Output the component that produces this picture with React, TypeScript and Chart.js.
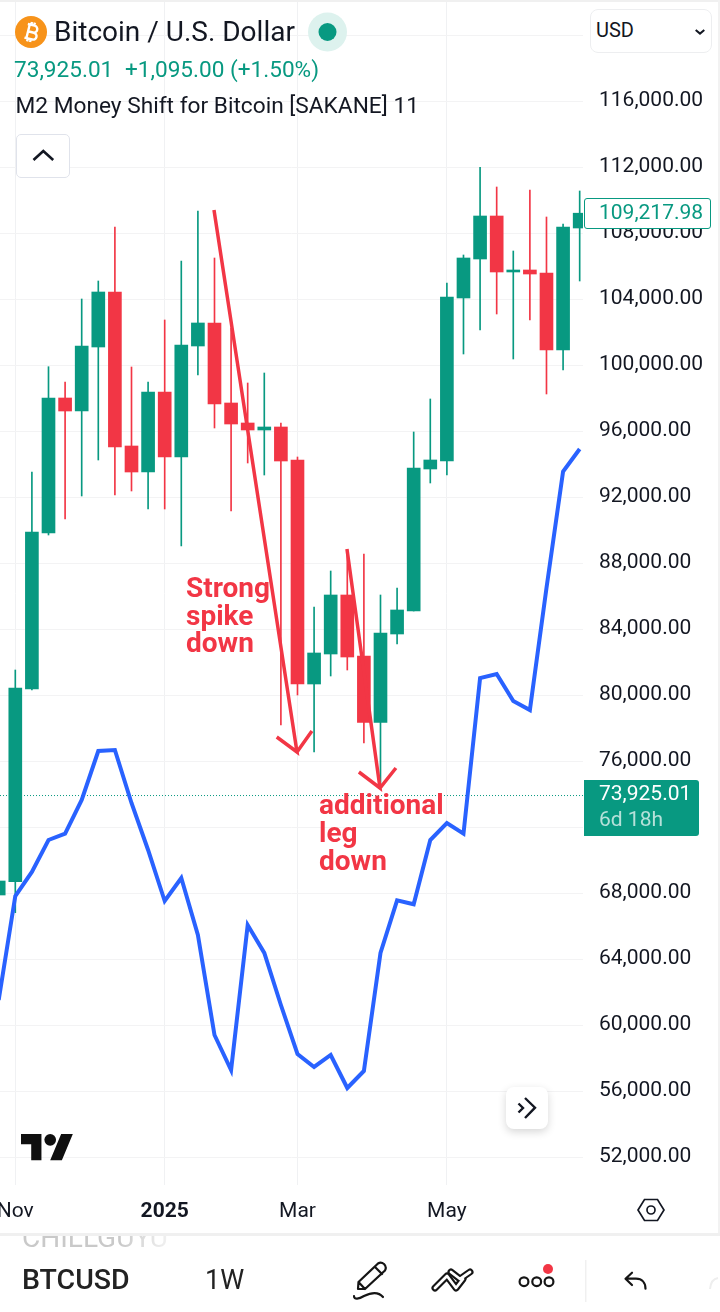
import React, { useEffect, useRef } from "react";
import { Chart, registerables } from "chart.js";

Chart.register(...registerables);

const opens = [67897, 68703, 80382, 89836, 98018, 97230, 101109, 104442, 95109, 93533, 98382, 94442, 101170, 102564, 97715, 96503, 96079, 96261, 94261, 80685, 82503, 86079, 82382, 78351, 83715, 85109, 93715, 94200, 104079, 106442, 109048, 105655, 105776, 105594, 100927, 108321];
const closes = [68745, 80442, 89897, 98018, 97230, 101170, 104442, 95049, 93533, 98382, 94442, 101230, 102564, 97655, 96442, 96079, 96261, 94200, 80685, 82564, 86079, 82321, 78351, 83776, 85170, 93776, 94261, 104139, 106503, 109048, 105655, 105776, 105533, 100927, 108382, 109217.98];
const highs = [68900, 81533, 93533, 99915, 98988, 104018, 105109, 108382, 99897, 98988, 102746, 106321, 109351, 106503, 102261, 98927, 99533, 96503, 94442, 85351, 87533, 88806, 88564, 86079, 86503, 95958, 97958, 104988, 106685, 112000, 110806, 106927, 110624, 108988, 108564, 110564];
const lows = [67700, 66824, 80321, 89715, 90685, 92079, 94261, 92139, 92382, 91291, 91291, 89048, 99412, 96200, 91170, 94079, 93351, 78200, 80018, 76564, 81170, 81533, 77109, 74442, 83109, 85109, 92867, 93351, 100685, 102139, 103109, 100382, 102746, 98261, 99715, 105109];
const m2Shift = [61533, 67836, 69291, 71230, 71618, 73655, 76624, 76685, 73473, 70624, 67533, 68927, 65473, 59412, 57291, 66079, 64388, 61230, 58260, 57473, 58200, 56200, 57230, 64388, 67576, 67333, 71230, 72260, 71618, 81048, 81290, 79648, 79102, 86503, 93563, 94927];

const priceTicks = [52000, 56000, 60000, 64000, 68000, 72000, 76000, 80000, 84000, 88000, 92000, 96000, 100000, 104000, 108000, 112000, 116000, 120000];
const timeTickIndex = [0, 9, 17, 26];
const timeTickLabels = ["Nov", "2025", "Mar", "May"];

const lastPrice = 73925.01;
const arrowOneX = [11.97, 16.97, 15.75, 16.97, 17.87];
const arrowOneY = [109412, 76564, 77473, 76564, 77836];
const arrowTwoX = [19.98, 21.97, 20.7, 21.97, 22.93];
const arrowTwoY = [88867, 74382, 75352, 74382, 75594];

const GREEN = "#089981";
const RED = "#F23645";
const BLUE = "#2962FF";
const INK = "#131722";
const FONT = "Roboto, sans-serif";

const Txt = ({ x, cy, size, color = INK, weight = 400, children, lh = 30, extra = {} }: any) => (
  <div
    style={{
      position: "absolute",
      left: x,
      top: cy - lh / 2,
      height: lh,
      lineHeight: lh + "px",
      fontFamily: FONT,
      fontSize: size,
      fontWeight: weight,
      color,
      whiteSpace: "nowrap",
      ...extra,
    }}
  >
    {children}
  </div>
);

const Box = ({ x, y, w, h, style = {}, children = null }: any) => (
  <div style={{ position: "absolute", left: x, top: y, width: w, height: h, boxSizing: "border-box", ...style }}>{children}</div>
);

export default function App() {
  const ref = useRef<HTMLCanvasElement>(null);

  useEffect(() => {
    const idx = opens.map((_, i) => i - 1);
    const colors = opens.map((o, i) => (closes[i] >= o ? GREEN : RED));
    const fixMargins = (s: any) => {
      s.paddingLeft = 0;
      s.paddingRight = 0;
      s.paddingTop = 0;
      s.paddingBottom = 0;
    };
    const xMin = -0.9217;
    const xMax = 34.2;
    const chart = new Chart(ref.current as HTMLCanvasElement, {
      type: "bar",
      data: {
        datasets: [
          {
            type: "line",
            data: [
              { x: xMin, y: lastPrice },
              { x: xMax, y: lastPrice },
            ],
            borderColor: GREEN,
            borderWidth: 1,
            borderDash: [1, 2],
            pointRadius: 0,
            order: 6,
          },
          {
            type: "bar",
            data: idx.map((x, i) => ({ x, y: [lows[i], highs[i]] })),
            backgroundColor: colors,
            barThickness: 1,
            grouped: false,
            order: 5,
          },
          {
            type: "bar",
            data: idx.map((x, i) => ({ x, y: [opens[i], closes[i]] })),
            backgroundColor: colors,
            barThickness: 13,
            grouped: false,
            order: 4,
          },
          {
            type: "line",
            data: idx.map((x, i) => ({ x, y: m2Shift[i] })),
            borderColor: BLUE,
            borderWidth: 4,
            pointRadius: 0,
            tension: 0,
            borderJoinStyle: "miter",
            order: 3,
          },
          {
            type: "line",
            data: arrowOneX.map((x, i) => ({ x, y: arrowOneY[i] })),
            borderColor: RED,
            borderWidth: 3.5,
            pointRadius: 0,
            tension: 0,
            order: 2,
          },
          {
            type: "line",
            data: arrowTwoX.map((x, i) => ({ x, y: arrowTwoY[i] })),
            borderColor: RED,
            borderWidth: 3.5,
            pointRadius: 0,
            tension: 0,
            order: 1,
          },
        ] as any,
      },
      options: {
        responsive: false,
        animation: false,
        devicePixelRatio: 1,
        events: [],
        layout: { padding: { left: 0, right: 0, top: 2, bottom: 77 } },
        plugins: { legend: { display: false }, tooltip: { enabled: false } },
        scales: {
          x: {
            type: "linear",
            min: xMin,
            max: xMax,
            offset: false,
            border: { display: false },
            grid: { offset: false, color: "#F0F1F3", lineWidth: 1, drawTicks: false },
            afterBuildTicks: (s: any) => {
              s.ticks = timeTickIndex.map((value) => ({ value }));
            },
            afterFit: (s: any) => {
              fixMargins(s);
              s.height = 50;
            },
            ticks: {
              autoSkip: false,
              maxRotation: 0,
              padding: 14,
              color: INK,
              callback: (v: any) => timeTickLabels[timeTickIndex.indexOf(v)] ?? "",
              font: (ctx: any) => ({
                family: "Roboto",
                size: 21,
                weight: timeTickLabels[ctx.index] === "2025" ? "bold" : "normal",
              }),
            },
          },
          y: {
            type: "linear",
            position: "right",
            min: 50321,
            max: 122018,
            border: { display: false },
            grid: { color: "#F3F3F4", lineWidth: 1, drawTicks: false },
            afterBuildTicks: (s: any) => {
              s.ticks = priceTicks.map((value) => ({ value }));
            },
            afterFit: (s: any) => {
              fixMargins(s);
              s.width = 137;
            },
            ticks: {
              autoSkip: false,
              padding: 16,
              labelOffset: -1,
              color: INK,
              font: { family: "Roboto", size: 21 },
              callback: (v: any) =>
                v === 120000 ? "" : Number(v).toLocaleString("en-US", { minimumFractionDigits: 2, maximumFractionDigits: 2 }),
            },
          },
        },
      } as any,
    });
    return () => chart.destroy();
  }, []);

  return (
    <div style={{ position: "absolute", left: 0, top: 0, width: 720, height: 1312, background: "#fff", overflow: "hidden" }}>
      <canvas ref={ref} width={720} height={1312} style={{ position: "absolute", left: 0, top: 0, display: "block", width: 720, height: 1312 }} />

      {/* frame */}
      <Box x={0} y={0} w={720} h={2} style={{ background: "#F0F0F0" }} />
      <Box x={718} y={0} w={2} h={1236} style={{ background: "#F2F2F2" }} />
      <Box x={0} y={1233} w={720} h={3} style={{ background: "#F0F0F0" }} />

      {/* header */}
      <Txt x={54} cy={31.5} size={28}>Bitcoin / U.S. Dollar</Txt>
      <Txt x={14} cy={70} size={22.6} color={GREEN}>73,925.01</Txt>
      <Txt x={125} cy={70} size={22.6} color={GREEN}>+1,095.00 (+1.50%)</Txt>
      <Txt x={15.5} cy={106} size={22.7}>M2 Money Shift for Bitcoin [SAKANE] 11</Txt>
      <Box x={16} y={134} w={54} h={44} style={{ border: "1px solid #E0E3EB", borderRadius: 5, background: "#fff" }} />

      {/* currency select */}
      <Box x={590} y={9} w={122} h={44} style={{ border: "1px solid #EDEEF0", borderRadius: 8, background: "#fff" }} />
      <Txt x={596} cy={30} size={20}>USD</Txt>

      {/* price tags */}
      <Box x={584} y={198} w={127} h={31} style={{ border: `1px solid ${GREEN}`, borderRadius: 3, background: "#fff" }} />
      <Txt x={599} cy={212} size={21} color={GREEN}>109,217.98</Txt>
      <Box x={584} y={780} w={115} h={56} style={{ background: GREEN, borderRadius: "0 3px 3px 0" }} />
      <Txt x={599} cy={793} size={21} color="#fff">73,925.01</Txt>
      <Txt x={599} cy={819} size={21} color="rgba(255,255,255,0.7)">6d 18h</Txt>

      {/* annotations */}
      <Txt x={186} cy={588} size={28} weight={700} color={RED}>Strong</Txt>
      <Txt x={186} cy={616} size={28} weight={700} color={RED}>spike</Txt>
      <Txt x={186} cy={643} size={28} weight={700} color={RED}>down</Txt>
      <Txt x={319} cy={805} size={28} weight={700} color={RED}>additional</Txt>
      <Txt x={319} cy={833} size={28} weight={700} color={RED}>leg</Txt>
      <Txt x={319} cy={861} size={28} weight={700} color={RED}>down</Txt>

      {/* scroll button */}
      <Box x={506} y={1087} w={42} h={42} style={{ background: "#fff", borderRadius: 8, boxShadow: "0 3px 8px rgba(0,0,0,0.16)" }} />

      {/* bottom strip */}
      <Box
        x={0}
        y={1236}
        w={200}
        h={14}
        style={{ overflow: "hidden", WebkitMaskImage: "linear-gradient(to right, #000 60%, transparent 92%)" }}
      >
        <div
          style={{
            position: "absolute",
            left: 22,
            top: -13,
            fontFamily: FONT,
            fontSize: 28,
            lineHeight: "30px",
            color: "#C9C9C9",
            whiteSpace: "nowrap",
          }}
        >
          CHILLGUYU
        </div>
      </Box>
      <Txt x={22} cy={1280} size={28.5} weight={500} color="#222">BTCUSD</Txt>
      <Txt x={205} cy={1280} size={27} color="#222">1W</Txt>

      {/* icons */}
      <svg width={720} height={1312} viewBox="0 0 720 1312" style={{ position: "absolute", left: 0, top: 0, pointerEvents: "none" }}>
        <circle cx={31} cy={32} r={16} fill="#F7931A" />
        <g transform="translate(31 32) rotate(14)" fill="none" stroke="#fff" strokeWidth={2.4}>
          <path d="M-5,-7 h7 a3.5,3.5 0 0 1 0,7 h-6 M-4,0 h7 a3.5,3.5 0 0 1 0,7 h-8 M-3,-7 v14 M-1.5,-10 v3 M1.5,-10 v3 M-1.5,7 v3 M1.5,7 v3" />
        </g>
        <circle cx={327.5} cy={32} r={19.5} fill="#DDF2EE" />
        <circle cx={327.5} cy={32} r={9} fill={GREEN} />
        <path d="M33.5,160 L43.3,151 L53.2,160" fill="none" stroke={INK} strokeWidth={2.6} />
        <path d="M695.7,30 L700,33.6 L704.3,30" fill="none" stroke={INK} strokeWidth={2} />
        <path d="M518.5,1103.5 L523,1108 L518.5,1112.5 M525,1098 L535,1107.7 L525,1118" fill="none" stroke={INK} strokeWidth={2.4} />
        <g transform="translate(21 1134) scale(1.46) translate(0 -4)" fill="#0F0F0F">
          <path d="M14 22H7V11H0V4h14v18zM28 22h-8l7.5-18h8L28 22z" />
          <circle cx={20} cy={8} r={4} />
        </g>
        <path d="M638,1210 L644.5,1199.5 L657.5,1199.5 L664,1210 L657.5,1220.5 L644.5,1220.5 Z" fill="none" stroke={INK} strokeWidth={1.7} />
        <circle cx={651} cy={1210} r={4} fill="none" stroke={INK} strokeWidth={1.7} />

        <g fill="none" stroke="#151515" strokeWidth={2.2} strokeLinejoin="round" strokeLinecap="round">
          <path d="M358,1289 L358.5,1282 L378,1263.5 Q381,1261.5 384,1264 Q387,1267 385,1270.5 L365,1289 Z M375,1267 L382,1274 M358.5,1282 L365,1289" />
          <path d="M354,1296 c0,4 5,3 10,0 c6,-3 14,-5 19,1" />
          <circle cx={524} cy={1281.7} r={4.4} />
          <circle cx={536.7} cy={1281.7} r={4.4} />
          <circle cx={549} cy={1281.7} r={4.4} />
          <path d="M632,1272.7 L625.5,1278.7 L632,1285 M626,1278.7 H636 c6,0 9.5,4 9.5,10" />
        </g>
        <g fill="none" strokeLinejoin="round" strokeLinecap="round">
          <path d="M435,1288 L447,1276 L456,1288 L463,1279" stroke="#151515" strokeWidth={7} />
          <path d="M451,1272 L460,1279 L470,1272" stroke="#151515" strokeWidth={7} />
          <path d="M435,1288 L447,1276 L456,1288 L463,1279" stroke="#fff" strokeWidth={2.8} />
          <path d="M451,1272 L460,1279 L470,1272" stroke="#fff" strokeWidth={2.8} />
        </g>
        <circle cx={548} cy={1269} r={5} fill={RED} />
        <path d="M585.7,1260 V1302" stroke="#F0F0F0" strokeWidth={1.5} />
        <path d="M710,1289 Q711,1279 718,1278" fill="none" stroke="#EEEEEE" strokeWidth={2} />
      </svg>
    </div>
  );
}
